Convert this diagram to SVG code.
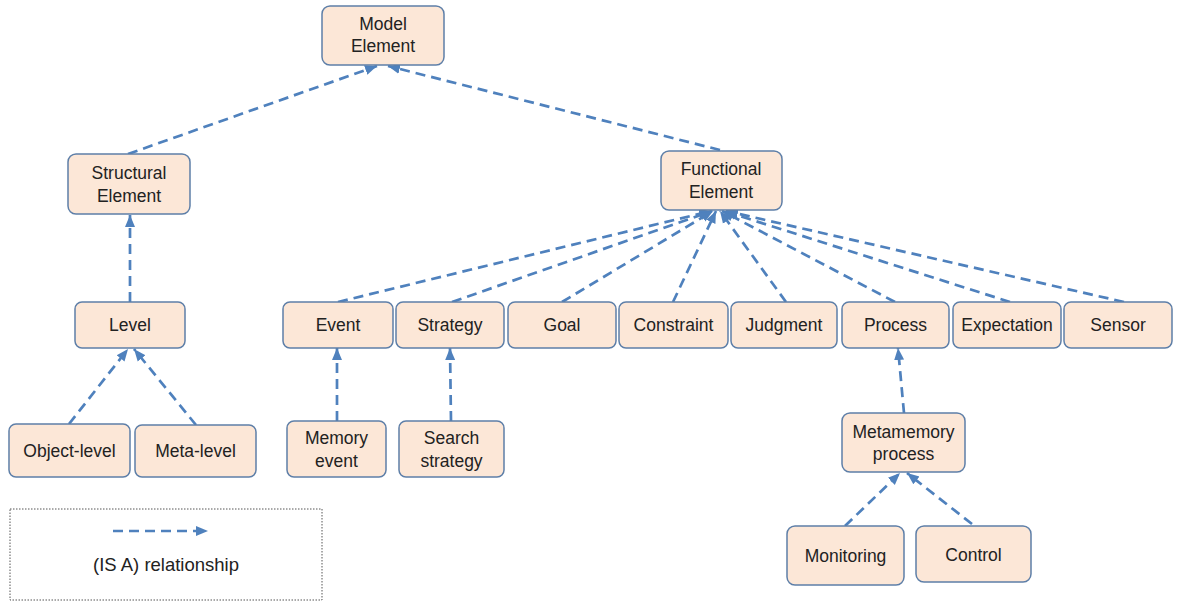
<svg xmlns="http://www.w3.org/2000/svg" width="1181" height="605" viewBox="0 0 1181 605">
<style>
.n rect{fill:#FCE7D7;stroke:#5E7FA8;stroke-width:1.5}
text{font-family:"Liberation Sans",Arial,sans-serif;font-size:17.5px;fill:#222;text-anchor:middle}
.e line{stroke:#4F81BD;stroke-width:2.7;stroke-dasharray:10,6;fill:none;marker-end:url(#ah)}
</style>
<defs>
<marker id="ah" markerUnits="userSpaceOnUse" markerWidth="13" markerHeight="13" viewBox="0 0 13 13" refX="12" refY="6.5" orient="auto">
<path d="M0,1.5 L12,6.5 L0,11.5 Z" fill="#4F81BD"/>
</marker>
</defs>
<rect x="10" y="509" width="312" height="91" fill="#fff" stroke="#555" stroke-width="1" stroke-dasharray="1.5,1.5"/>
<g class="e" id="connectors">
<line x1="128" y1="154" x2="377" y2="66"/>
<line x1="720" y1="150" x2="388" y2="66"/>
<line x1="130" y1="302" x2="130" y2="215"/>
<line x1="69" y1="424" x2="128" y2="349"/>
<line x1="196" y1="425" x2="134" y2="349"/>
<line x1="338" y1="302" x2="711" y2="211"/>
<line x1="452" y1="302" x2="712" y2="211"/>
<line x1="562" y1="302" x2="713" y2="211"/>
<line x1="673" y1="302" x2="716" y2="211"/>
<line x1="786" y1="302" x2="720" y2="211"/>
<line x1="895" y1="302" x2="722" y2="211"/>
<line x1="1010" y1="302" x2="724" y2="211"/>
<line x1="1124" y1="302" x2="726" y2="211"/>
<line x1="337" y1="421" x2="337" y2="348"/>
<line x1="451" y1="421" x2="450" y2="348"/>
<line x1="904" y1="413" x2="898" y2="348"/>
<line x1="845" y1="526" x2="900" y2="473"/>
<line x1="972" y1="524" x2="907" y2="473"/>
<line x1="113" y1="531" x2="208" y2="531"/>
</g>
<g class="n" id="model-element"><rect x="322" y="6" width="122" height="59" rx="8"/><text x="383" y="30">Model</text><text x="383" y="52">Element</text></g>
<g class="n" id="structural-element"><rect x="68" y="154" width="122" height="60" rx="8"/><text x="129" y="179">Structural</text><text x="129" y="202">Element</text></g>
<g class="n" id="functional-element"><rect x="661" y="151" width="121" height="59" rx="8"/><text x="721" y="175">Functional</text><text x="721" y="198">Element</text></g>
<g class="n" id="level"><rect x="75" y="302" width="110" height="46" rx="7"/><text x="130" y="331">Level</text></g>
<g class="n" id="object-level"><rect x="9" y="424" width="121" height="53" rx="7"/><text x="69.5" y="457">Object-level</text></g>
<g class="n" id="meta-level"><rect x="135" y="425" width="121" height="52" rx="7"/><text x="195.5" y="457">Meta-level</text></g>
<g class="n" id="event"><rect x="283" y="302" width="110" height="46" rx="7"/><text x="338" y="331">Event</text></g>
<g class="n" id="strategy"><rect x="396" y="302" width="108" height="46" rx="7"/><text x="450" y="331">Strategy</text></g>
<g class="n" id="goal"><rect x="508" y="302" width="108" height="46" rx="7"/><text x="562" y="331">Goal</text></g>
<g class="n" id="constraint"><rect x="619" y="302" width="109" height="46" rx="7"/><text x="673.5" y="331">Constraint</text></g>
<g class="n" id="judgment"><rect x="731" y="302" width="106" height="46" rx="7"/><text x="784" y="331">Judgment</text></g>
<g class="n" id="process"><rect x="842" y="302" width="107" height="46" rx="7"/><text x="895.5" y="331">Process</text></g>
<g class="n" id="expectation"><rect x="953" y="302" width="108" height="46" rx="7"/><text x="1007" y="331">Expectation</text></g>
<g class="n" id="sensor"><rect x="1064" y="302" width="108" height="46" rx="7"/><text x="1118" y="331">Sensor</text></g>
<g class="n" id="memory-event"><rect x="287" y="421" width="99" height="56" rx="7"/><text x="336.5" y="444">Memory</text><text x="336.5" y="467">event</text></g>
<g class="n" id="search-strategy"><rect x="399" y="421" width="105" height="56" rx="7"/><text x="451.5" y="444">Search</text><text x="451.5" y="467">strategy</text></g>
<g class="n" id="metamemory-process"><rect x="842" y="413" width="123" height="59" rx="8"/><text x="903.5" y="438">Metamemory</text><text x="903.5" y="460">process</text></g>
<g class="n" id="monitoring"><rect x="787" y="526" width="117" height="59" rx="8"/><text x="845.5" y="562">Monitoring</text></g>
<g class="n" id="control"><rect x="916" y="526" width="115" height="56" rx="8"/><text x="973.5" y="561">Control</text></g>
<text x="166" y="571" style="font-size:18.5px">(IS A) relationship</text>
</svg>
